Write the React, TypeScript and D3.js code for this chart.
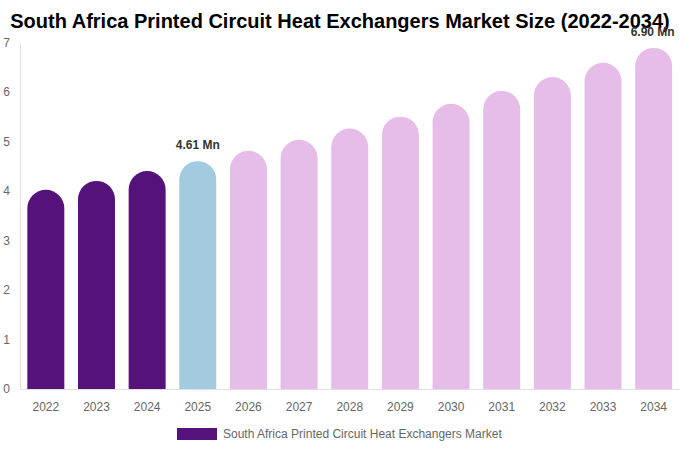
import React from "react";
import * as d3 from "d3";

const years = ["2022","2023","2024","2025","2026","2027","2028","2029","2030","2031","2032","2033","2034"];
const values = [4.03, 4.21, 4.41, 4.61, 4.82, 5.04, 5.27, 5.51, 5.77, 6.03, 6.31, 6.60, 6.90];
const barColors = ["#54127a","#54127a","#54127a","#a3cbe0","#e6bce8","#e6bce8","#e6bce8","#e6bce8","#e6bce8","#e6bce8","#e6bce8","#e6bce8","#e6bce8"];
const labelled = ["2025","2034"];
const yTicks = [0,1,2,3,4,5,6,7];
const title = "South Africa Printed Circuit Heat Exchangers Market Size (2022-2034)";
const legendLabel = "South Africa Printed Circuit Heat Exchangers Market";

const W = 680, H = 450;
const left = 20.5, right = 679, top = 43, bottom = 389;

export default function App() {
  const x = d3.scaleBand<string>().domain(years).range([left, right]).paddingInner(0.27).paddingOuter(0.135);
  const y = d3.scaleLinear().domain([0, 7]).range([bottom, top]);
  const bw = x.bandwidth();
  const r = bw / 2;
  const font = "'Liberation Sans', Arial, sans-serif";

  const barPath = (x0: number, yTop: number) => {
    const p = d3.path();
    p.moveTo(x0, bottom);
    p.lineTo(x0, yTop + r);
    p.arc(x0 + r, yTop + r, r, Math.PI, 0);
    p.lineTo(x0 + bw, bottom);
    p.closePath();
    return p.toString();
  };

  return (
    <svg width={W} height={H} style={{ position: "absolute", left: 0, top: 0 }} fontFamily={font}>
      <rect width={W} height={H} fill="#fff" />
      <text x={340} y={28} textAnchor="middle" fontSize={20} fontWeight="bold" fill="#000">{title}</text>
      <line x1={left} x2={left} y1={top} y2={bottom} stroke="#e0e0e0" />
      <line x1={left} x2={680} y1={bottom + 0.5} y2={bottom + 0.5} stroke="#e0e0e0" />
      {yTicks.map(t => (
        <text key={t} x={10} y={y(t) + 4} textAnchor="end" fontSize={12} fill="#666">{t}</text>
      ))}
      {years.map((yr, i) => (
        <g key={yr}>
          <path d={barPath(x(yr)!, y(values[i]))} fill={barColors[i]} />
          <text x={x(yr)! + bw / 2} y={411} textAnchor="middle" fontSize={12} fill="#666">{yr}</text>
          {labelled.includes(yr) && (
            <text x={x(yr)! + bw / 2 - (yr === "2034" ? 1 : 0)} y={y(values[i]) - 12} textAnchor="middle" fontSize={12} fontWeight="bold" fill="#333">
              {values[i].toFixed(2)} Mn
            </text>
          )}
        </g>
      ))}
      <rect x={177} y={428} width={40} height={12} fill="#54127a" />
      <text x={223} y={437.5} fontSize={12} fill="#666">{legendLabel}</text>
    </svg>
  );
}
